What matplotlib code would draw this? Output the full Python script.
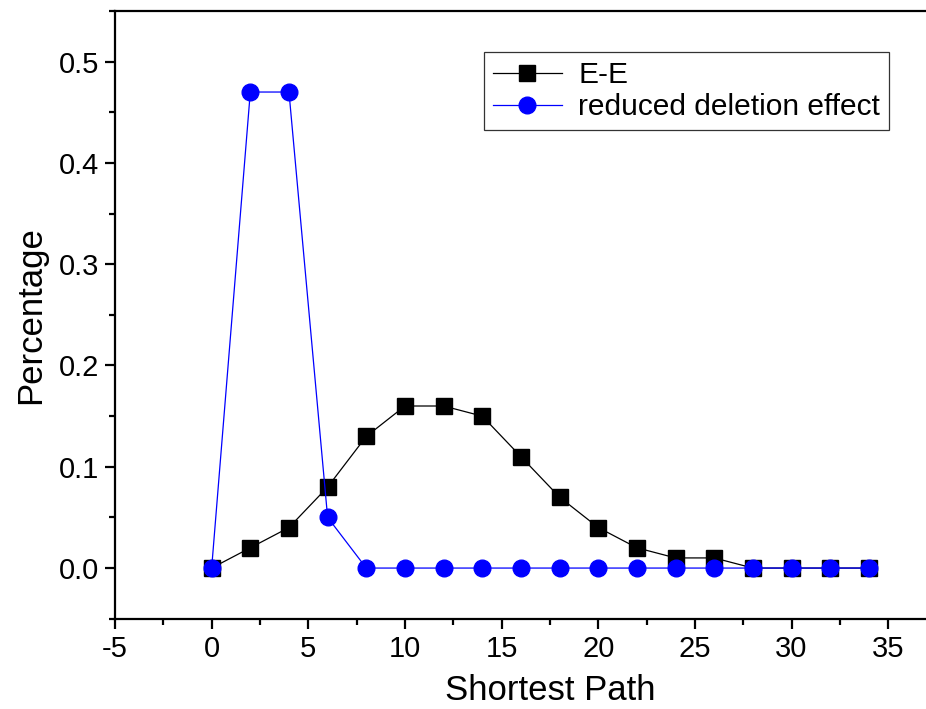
import matplotlib
matplotlib.use("Agg")
import matplotlib.pyplot as plt
from matplotlib.ticker import MultipleLocator

plt.rcParams['font.family'] = ['Liberation Sans', 'DejaVu Sans']
plt.rcParams['axes.unicode_minus'] = False

x = [0, 2, 4, 6, 8, 10, 12, 14, 16, 18, 20, 22, 24, 26, 28, 30, 32, 34]
ee = [0, 0.02, 0.04, 0.08, 0.13, 0.16, 0.16, 0.15, 0.11, 0.07, 0.04, 0.02, 0.01, 0.01, 0, 0, 0, 0]
rde = [0, 0.47, 0.47, 0.05, 0, 0, 0, 0, 0, 0, 0, 0, 0, 0, 0, 0, 0, 0]

fig = plt.figure(figsize=(9.26, 7.09), dpi=100)
L, B, T = 115, 618.7, 11
W = 45 * 19.33
ax = fig.add_axes([L/926, (709-B)/709, W/926, (B-T)/709])

ax.plot(x, ee, color='black', lw=0.9, marker='s', markersize=11, label='E-E', zorder=3)
ax.plot(x, rde, color='#0000ff', lw=0.9, marker='o', markersize=12, label='reduced deletion effect', zorder=4)

ax.set_xlim(-5, 40)
ax.set_ylim(-0.05, 0.55)
ax.xaxis.set_minor_locator(MultipleLocator(2.5))
ax.yaxis.set_minor_locator(MultipleLocator(0.05))
ax.set_xticks([-5, 0, 5, 10, 15, 20, 25, 30, 35])
ax.set_yticks([0.0, 0.1, 0.2, 0.3, 0.4, 0.5])
ax.set_yticklabels(['0.0', '0.1', '0.2', '0.3', '0.4', '0.5'])

for s in ax.spines.values():
    s.set_linewidth(1.6)
ax.spines['right'].set_visible(False)
ax.tick_params(which='both', direction='out', width=1.6, labelsize=21, top=False, right=False)
ax.tick_params(which='major', length=7.5, pad=4)
ax.tick_params(which='minor', length=4.5)

ax.set_xlabel('Shortest Path', fontsize=25, labelpad=8)
ax.set_ylabel('Percentage', fontsize=25, labelpad=8)

leg = ax.legend(loc='upper left', bbox_to_anchor=((484-L)/W, (B-52)/(B-T)),
                fontsize=21.5, frameon=True, fancybox=False, edgecolor='black',
                numpoints=1, handlelength=2.3, borderpad=0.3, labelspacing=0.15,
                handletextpad=0.55, borderaxespad=0)
leg.get_frame().set_linewidth(0.9)

fig.savefig('out.png', dpi=100)
